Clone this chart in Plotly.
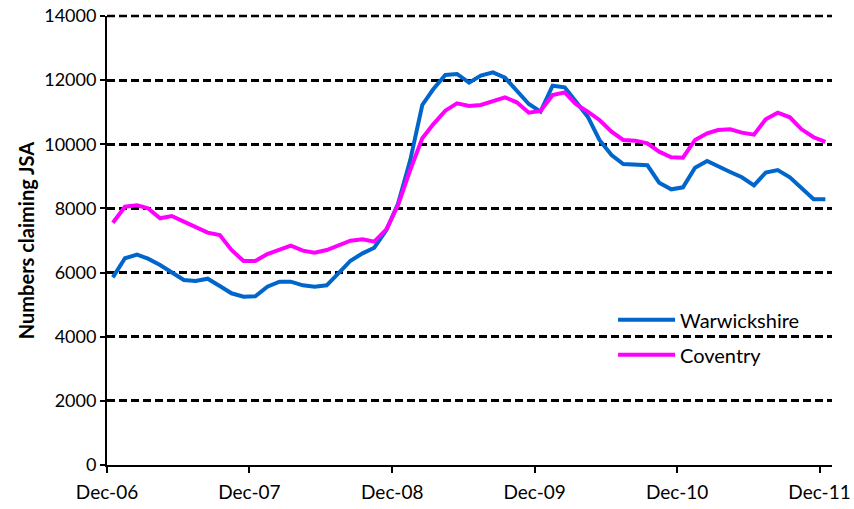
import plotly.graph_objects as go

# Monthly dates, Dec-06 .. Dec-11 (61 points)
months = []
y, m = 2006, 12
for _ in range(61):
    months.append(f"{y}-{m:02d}-16")
    m += 1
    if m > 12:
        m = 1
        y += 1

warwickshire = [5850, 6445, 6558, 6433, 6236, 5997, 5769, 5737, 5810, 5582, 5354, 5249,
                5260, 5560, 5716, 5716, 5603, 5560, 5603, 5977, 6370, 6600, 6776, 7328,
                8150, 9500, 11226, 11715, 12161, 12192, 11922, 12140, 12244, 12078, 11693, 11257,
                11017, 11828, 11776, 11330, 10860, 10134, 9667, 9386, 9376, 9345, 8803, 8596,
                8658, 9270, 9479, 9302, 9136, 8971, 8721, 9115, 9198, 8971, 8628, 8285,
                8285]
coventry = [7556, 8054, 8097, 8003, 7692, 7764, 7587, 7431, 7244, 7172, 6704, 6361,
            6361, 6579, 6725, 6838, 6683, 6621, 6704, 6838, 6994, 7037, 6963, 7349,
            8107, 9198, 10187, 10623, 11048, 11276, 11194, 11226, 11350, 11465, 11309, 10986,
            11038, 11537, 11620, 11257, 11017, 10758, 10393, 10134, 10113, 10031, 9770, 9594,
            9584, 10134, 10343, 10446, 10467, 10363, 10300, 10780, 10986, 10841, 10467, 10218,
            10072]

tick_dates = ["2006-12-01", "2007-12-01", "2008-12-01", "2009-12-01", "2010-12-01", "2011-12-01"]
tick_labels = ["Dec-06", "Dec-07", "Dec-08", "Dec-09", "Dec-10", "Dec-11"]
y_ticks = [0, 2000, 4000, 6000, 8000, 10000, 12000, 14000]
y_tick_labels = [str(v) for v in y_ticks]
y_max = 14000

FONT = "Lato, 'Open Sans', sans-serif"

fig = go.Figure()
fig.add_trace(go.Scatter(x=months, y=warwickshire, mode="lines", name="Warwickshire",
                         line=dict(color="#0066CC", width=4), legendgroup="a"))
fig.add_trace(go.Scatter(x=months, y=coventry, mode="lines", name="Coventry",
                         line=dict(color="#FF00FF", width=4), legendgroup="b"))

# top gridline (plotly drops gridlines at the very edge of the range)
fig.add_shape(type="line", xref="paper", yref="paper", x0=0, x1=1, y0=1, y1=1,
              line=dict(color="black", width=2.5, dash="8px,4px"), layer="below")

fig.update_layout(
    width=854, height=509,
    paper_bgcolor="white", plot_bgcolor="white",
    margin=dict(l=107, r=22, t=16, b=44),
    font=dict(family=FONT, size=18, color="black"),
    showlegend=True,
    legend=dict(x=0.698, y=0.367, xanchor="left", yanchor="top",
                bgcolor="rgba(0,0,0,0)", itemwidth=57, tracegroupgap=6,
                font=dict(family=FONT, size=20)),
    xaxis=dict(type="date", range=["2006-12-01", "2012-01-02"],
               tickvals=tick_dates, ticktext=tick_labels, automargin=False,
               showline=True, linecolor="black", linewidth=2,
               ticks="outside", ticklen=6, tickwidth=2, tickcolor="black",
               showgrid=False, zeroline=False, ticklabelstandoff=3,
               ticklabeloverflow="allow",
               tickfont=dict(family=FONT, size=19)),
    yaxis=dict(range=[0, y_max], tickvals=y_ticks, ticktext=y_tick_labels, automargin=False,
               showline=True, linecolor="black", linewidth=2,
               ticks="outside", ticklen=5, tickwidth=2, tickcolor="black",
               showgrid=True, gridcolor="black", gridwidth=2.5, griddash="8px,4px",
               zeroline=False, ticklabeloverflow="allow",
               title=dict(text="<b>Numbers claiming JSA</b>", standoff=4,
                          font=dict(family=FONT, size=20)),
               tickfont=dict(family=FONT, size=18)),
)

fig.write_html("out.html", config={"displayModeBar": False},
               post_script="document.body.style.margin='0';document.body.style.overflow='hidden';")
